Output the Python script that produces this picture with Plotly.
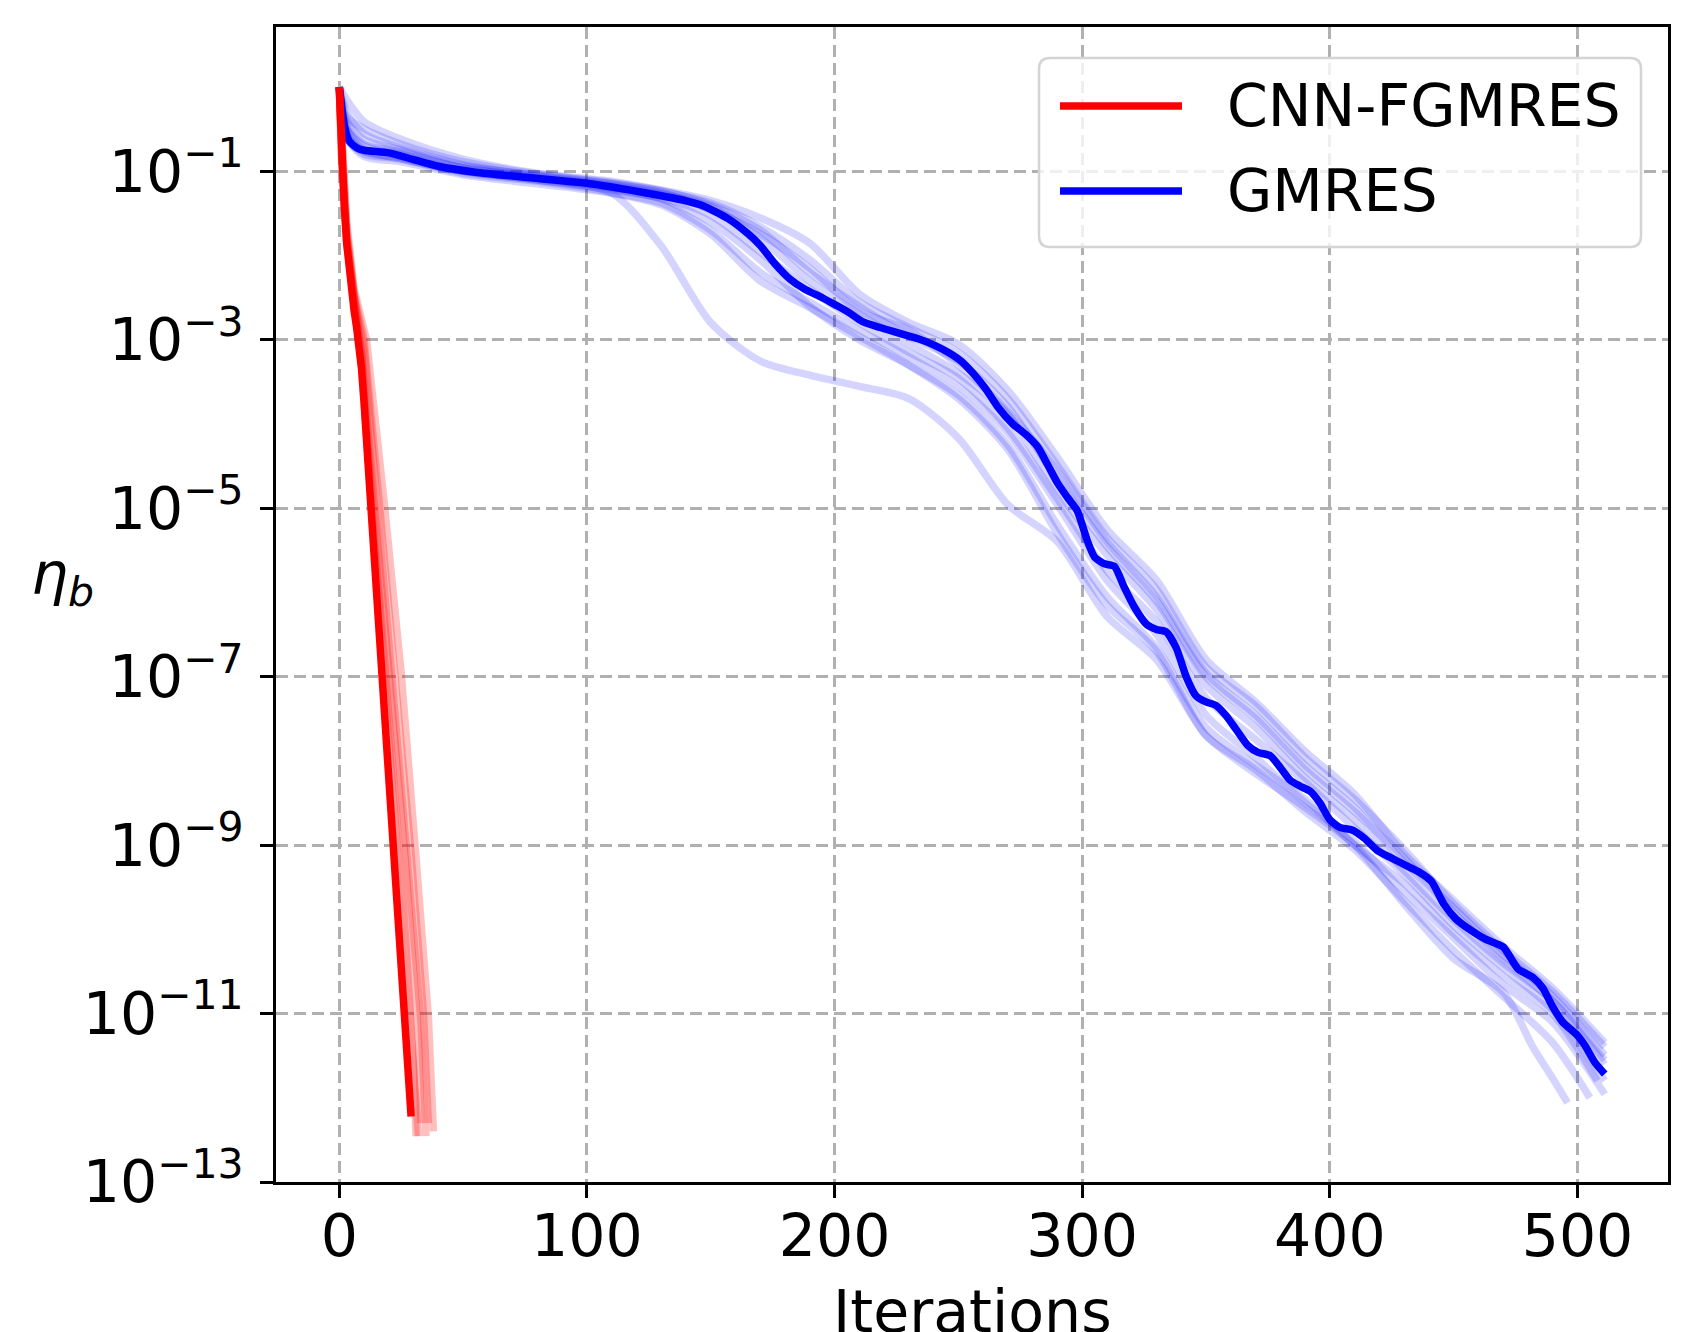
import plotly.graph_objects as go

# ---------------- data ----------------
# CNN-FGMRES: median run (one point per iteration)
cnn_iters = list(range(0, 30))
cnn_main = [1.0, 1.3e-1, 4.0e-2, 1.4e-2, 6.3e-3, 3.5e-3, 2.2e-3, 1.4e-3, 8.9e-4, 4.5e-4,
            1.8e-4, 6.3e-5, 2.2e-5, 7.9e-6, 2.8e-6, 1.0e-6, 3.2e-7, 1.1e-7, 4.0e-8, 1.4e-8,
            5.0e-9, 1.8e-9, 6.3e-10, 2.5e-10, 8.9e-11, 3.2e-11, 1.3e-11, 4.5e-12, 1.6e-12, 6.0e-13]

# CNN-FGMRES: individual (faint) runs
cnn_run1_x = [0, 1, 3, 6, 11, 18, 25, 31, 36, 38]
cnn_run1_y = [1.0, 2.0e-1, 2.5e-2, 4.0e-3, 1.0e-3, 1.3e-5, 1.1e-7, 7.1e-10, 8.9e-12, 4.0e-13]
cnn_run2_x = [0, 1, 3, 6, 10, 16, 23, 29, 34, 36]
cnn_run2_y = [1.0, 1.8e-1, 2.0e-2, 3.5e-3, 1.0e-3, 1.3e-5, 8.9e-8, 7.9e-10, 1.0e-11, 5.0e-13]
cnn_run3_x = [0, 1, 3, 6, 10, 15, 22, 28, 33, 35]
cnn_run3_y = [1.0, 1.6e-1, 1.8e-2, 3.2e-3, 7.9e-4, 1.4e-5, 7.9e-8, 6.3e-10, 7.9e-12, 3.5e-13]
cnn_run4_x = [0, 1, 3, 6, 9, 14, 21, 27, 32, 33]
cnn_run4_y = [1.0, 1.4e-1, 1.6e-2, 2.8e-3, 7.1e-4, 1.3e-5, 7.1e-8, 5.0e-10, 5.0e-12, 5.0e-13]
cnn_run5_x = [0, 1, 3, 6, 9, 14, 20, 26, 30, 31]
cnn_run5_y = [1.0, 1.4e-1, 1.4e-2, 2.5e-3, 6.3e-4, 6.3e-6, 4.5e-8, 1.8e-10, 2.5e-12, 3.5e-13]
cnn_run6_x = [0, 1, 3, 6, 9, 13, 19, 25, 29, 32]
cnn_run6_y = [1.0, 1.3e-1, 1.4e-2, 2.2e-3, 5.0e-4, 1.1e-5, 4.5e-8, 1.3e-10, 3.2e-12, 3.5e-13]

# GMRES: median run
gmres_iters = [0, 2, 4, 7, 10, 20, 30, 40, 55, 75, 100, 117, 130, 140, 147, 157, 165, 170, 176, 182,
               188, 195, 200, 206, 211, 218, 226, 234, 240, 246, 251, 256, 261, 266, 272, 277, 282, 286, 290, 294,
               298, 302, 305, 309, 313, 317, 321, 326, 330, 334, 338, 342, 346, 350, 354, 358, 362, 367, 371, 376,
               380, 384, 388, 392, 396, 400, 404, 409, 414, 419, 424, 430, 436, 441, 446, 451, 456, 463, 470, 476,
               482, 486, 490, 494, 500, 503, 507, 511]
gmres_main = [1.0, 3.55e-1, 2.29e-1, 1.91e-1, 1.78e-1, 1.66e-1, 1.38e-1, 1.15e-1, 9.77e-2, 8.51e-2,
              7.24e-2, 6.03e-2, 5.13e-2, 4.47e-2, 3.89e-2, 2.75e-2, 1.82e-2, 1.32e-2, 7.94e-3, 5.25e-3,
              3.98e-3, 3.16e-3, 2.63e-3, 2.09e-3, 1.66e-3, 1.41e-3, 1.20e-3, 1.02e-3, 8.71e-4, 7.08e-4,
              5.62e-4, 3.98e-4, 2.63e-4, 1.58e-4, 1.0e-4, 7.59e-5, 5.37e-5, 3.31e-5, 2.0e-5, 1.35e-5,
              9.33e-6, 4.17e-6, 2.63e-6, 2.19e-6, 2.04e-6, 1.15e-6, 6.76e-7, 4.17e-7, 3.63e-7, 3.39e-7,
              2.19e-7, 1.0e-7, 5.89e-8, 5.01e-8, 4.57e-8, 3.47e-8, 2.40e-8, 1.51e-8, 1.26e-8, 1.15e-8,
              8.32e-9, 5.89e-9, 5.01e-9, 4.37e-9, 3.16e-9, 2.0e-9, 1.62e-9, 1.51e-9, 1.20e-9, 8.71e-10,
              7.24e-10, 5.89e-10, 4.79e-10, 3.72e-10, 2.0e-10, 1.32e-10, 1.02e-10, 7.59e-11, 6.17e-11, 3.39e-11,
              2.69e-11, 2.0e-11, 1.20e-11, 7.94e-12, 5.50e-12, 4.17e-12, 2.63e-12, 1.91e-12]

# GMRES: individual (faint) runs
gm_grid = [0, 3, 10, 25, 50, 80, 110, 130, 150, 170, 190, 210, 230, 250, 270, 290, 310, 330,
           350, 370, 390, 410, 430, 450, 470, 490, 511]
gm_run1_x = [0, 3, 10, 25, 50, 80, 110, 130, 150, 170, 190, 210, 230, 250, 270, 290, 310, 330,
             350, 370, 390, 410, 430, 450, 470, 482, 490, 496]
gm_run1_y = [1.0, 3.2e-1, 1.8e-1, 1.4e-1, 1.0e-1, 7.9e-2, 5.5e-2, 1.3e-2, 1.6e-3, 5.6e-4, 3.8e-4, 2.8e-4,
             2.0e-4, 6.8e-5, 1.1e-5, 4.0e-6, 5.2e-7, 1.6e-7, 2.0e-8, 7.1e-9, 2.8e-9, 1.0e-9, 2.0e-10,
             4.5e-11, 1.8e-11, 4.0e-12, 1.7e-12, 8.7e-13]
gm_run2_y = [1.0, 7.1e-1, 3.9e-1, 2.4e-1, 1.4e-1, 9.5e-2, 7.6e-2, 6.0e-2, 4.5e-2, 2.8e-2, 1.4e-2, 3.5e-3,
             1.6e-3, 8.9e-4, 2.5e-4, 4.0e-5, 5.6e-6, 1.4e-6, 1.6e-7, 5.0e-8, 1.3e-8, 4.0e-9, 7.9e-10,
             2.2e-10, 6.3e-11, 2.0e-11, 4.5e-12]
gm_run3_y = [1.0, 5.0e-1, 2.8e-1, 1.9e-1, 1.2e-1, 8.9e-2, 7.1e-2, 5.6e-2, 3.5e-2, 1.8e-2, 7.1e-3, 2.2e-3,
             1.3e-3, 5.0e-4, 1.4e-4, 2.8e-5, 4.0e-6, 8.9e-7, 1.1e-7, 3.5e-8, 8.9e-9, 2.8e-9, 6.3e-10,
             1.8e-10, 5.0e-11, 1.6e-11, 3.2e-12]
gm_run4_y = [1.0, 2.5e-1, 1.6e-1, 1.4e-1, 9.5e-2, 7.6e-2, 5.6e-2, 4.2e-2, 2.0e-2, 6.3e-3, 2.8e-3, 1.3e-3,
             6.3e-4, 2.8e-4, 7.9e-5, 1.1e-5, 1.4e-6, 3.2e-7, 3.5e-8, 1.1e-8, 3.2e-9, 1.1e-9, 2.8e-10,
             7.9e-11, 2.2e-11, 7.9e-12, 1.1e-12]
gm_run5_x = [0, 3, 10, 25, 50, 80, 110, 130, 150, 170, 190, 210, 230, 250, 270, 290, 310, 330,
             350, 370, 390, 410, 430, 450, 470, 490, 508]
gm_run5_y = [1.0, 3.2e-1, 2.0e-1, 1.6e-1, 1.1e-1, 8.3e-2, 6.3e-2, 4.7e-2, 2.5e-2, 8.9e-3, 2.5e-3, 1.0e-3,
             5.0e-4, 2.2e-4, 5.6e-5, 6.3e-6, 8.9e-7, 2.2e-7, 2.5e-8, 8.9e-9, 3.5e-9, 1.0e-9, 3.5e-10,
             8.9e-11, 2.8e-11, 1.0e-11, 1.6e-12]
gm_run6_y = [1.0, 3.5e-1, 2.1e-1, 1.7e-1, 1.1e-1, 8.7e-2, 6.8e-2, 5.4e-2, 3.8e-2, 1.6e-2, 5.0e-3, 2.0e-3,
             8.9e-4, 4.0e-4, 1.3e-4, 1.6e-5, 2.8e-6, 6.3e-7, 7.9e-8, 2.5e-8, 6.3e-9, 2.0e-9, 5.0e-10,
             1.3e-10, 4.0e-11, 1.4e-11, 2.5e-12]
gm_run7_y = [1.0, 2.8e-1, 1.7e-1, 1.45e-1, 1.0e-1, 7.9e-2, 6.0e-2, 4.8e-2, 3.0e-2, 1.1e-2, 4.0e-3, 1.6e-3,
             7.1e-4, 3.5e-4, 8.9e-5, 1.3e-5, 1.8e-6, 4.5e-7, 5.6e-8, 1.8e-8, 5.6e-9, 1.6e-9, 4.5e-10,
             1.1e-10, 3.5e-11, 1.1e-11, 1.6e-12]
gm_run8_y = [1.0, 4.0e-1, 2.4e-1, 1.8e-1, 1.15e-1, 9.1e-2, 7.2e-2, 5.8e-2, 4.2e-2, 2.2e-2, 8.9e-3, 2.8e-3,
             1.4e-3, 7.1e-4, 2.0e-4, 3.2e-5, 4.5e-6, 1.1e-6, 1.3e-7, 4.5e-8, 1.1e-8, 3.5e-9, 8.9e-10,
             2.0e-10, 5.6e-11, 1.8e-11, 4.0e-12]
gm_run9_x = [0, 3, 10, 25, 50, 80, 110, 130, 150, 170, 190, 210, 230, 250, 270, 290, 310, 330,
             350, 370, 390, 410, 430, 450, 470, 490, 505]
gm_run9_y = [1.0, 2.5e-1, 1.5e-1, 1.3e-1, 9.1e-2, 7.1e-2, 5.5e-2, 4.0e-2, 1.8e-2, 5.0e-3, 2.4e-3, 1.1e-3,
             5.0e-4, 2.0e-4, 5.0e-5, 5.0e-6, 7.1e-7, 2.0e-7, 2.0e-8, 7.9e-9, 2.5e-9, 8.9e-10, 2.2e-10,
             5.6e-11, 1.6e-11, 4.5e-12, 1.0e-12]
gm_run10_y = [1.0, 4.5e-1, 3.2e-1, 2.1e-1, 1.3e-1, 9.3e-2, 7.4e-2, 5.9e-2, 4.0e-2, 2.0e-2, 6.3e-3, 2.5e-3,
              1.1e-3, 5.6e-4, 1.6e-4, 2.2e-5, 3.5e-6, 7.9e-7, 1.0e-7, 3.2e-8, 7.9e-9, 2.5e-9, 7.1e-10,
              1.6e-10, 4.5e-11, 1.4e-11, 2.8e-12]

x_ticks = [0, 100, 200, 300, 400, 500]
y_ticks = [1e-1, 1e-3, 1e-5, 1e-7, 1e-9, 1e-11, 1e-13]
y_tick_text = ["10<sup>\u22121</sup>", "10<sup>\u22123</sup>", "10<sup>\u22125</sup>",
               "10<sup>\u22127</sup>", "10<sup>\u22129</sup>", "10<sup>\u221211</sup>",
               "10<sup>\u221213</sup>"]
series_names = ["CNN-FGMRES", "GMRES"]

# ---------------- figure ----------------
FONT = "DejaVu Sans"
FS = 58.5
W_PX, H_PX = 1701, 1332
L0, R0, T0, B0 = 276, 1668, 27, 1182
PW, PH = R0 - L0, B0 - T0


def px(X):
    return (X - L0) / PW


def py(Y):
    return (B0 - Y) / PH


fig = go.Figure()

faint_blue = "rgba(0,0,255,0.17)"
faint_red = "rgba(255,0,0,0.25)"
LW = 7.5

gm_runs = [
    (gm_run1_x, gm_run1_y), (gm_grid, gm_run2_y), (gm_grid, gm_run3_y), (gm_grid, gm_run4_y),
    (gm_run5_x, gm_run5_y), (gm_grid, gm_run6_y), (gm_grid, gm_run7_y), (gm_grid, gm_run8_y),
    (gm_run9_x, gm_run9_y), (gm_grid, gm_run10_y),
]
for xs, ys in gm_runs:
    fig.add_trace(go.Scatter(x=xs, y=ys, mode="lines", showlegend=False, hoverinfo="skip",
                             line=dict(color=faint_blue, width=LW, shape="spline", smoothing=0.8)))

fig.add_trace(go.Scatter(x=gmres_iters, y=gmres_main, mode="lines", name=series_names[1],
                         showlegend=False,
                         line=dict(color="rgb(0,0,255)", width=LW, shape="spline", smoothing=0.6)))

cnn_runs = [(cnn_run1_x, cnn_run1_y), (cnn_run2_x, cnn_run2_y), (cnn_run3_x, cnn_run3_y),
            (cnn_run4_x, cnn_run4_y), (cnn_run5_x, cnn_run5_y), (cnn_run6_x, cnn_run6_y)]
for xs, ys in cnn_runs:
    fig.add_trace(go.Scatter(x=xs, y=ys, mode="lines", showlegend=False, hoverinfo="skip",
                             line=dict(color=faint_red, width=LW)))

fig.add_trace(go.Scatter(x=cnn_iters, y=cnn_main, mode="lines", name=series_names[0],
                         showlegend=False, line=dict(color="rgb(255,0,0)", width=LW)))

axis_common = dict(
    showline=True, linecolor="black", linewidth=2.5, mirror=True,
    ticks="outside", ticklen=13, tickwidth=2.5, tickcolor="black",
    showgrid=True, gridcolor="#b0b0b0", gridwidth=2.5, griddash="12px,6px",
    zeroline=False,
    tickfont=dict(family=FONT, size=FS, color="black"),
)

fig.update_xaxes(range=[-25.55, 536.55], tickvals=x_ticks, ticklabelstandoff=-12, **axis_common)
fig.update_yaxes(type="log", range=[-13, 0.714], tickvals=y_ticks, ticktext=y_tick_text,
                 ticklabelstandoff=5, **axis_common)

# legend drawn by hand (matplotlib style)
x0, x1 = px(1039), px(1641)
yt, yb = py(58), py(247)
rx, ry = 11 / PW, 11 / PH
box_path = (f"M {x0+rx},{yt} L {x1-rx},{yt} Q {x1},{yt} {x1},{yt-ry} "
            f"L {x1},{yb+ry} Q {x1},{yb} {x1-rx},{yb} L {x0+rx},{yb} Q {x0},{yb} {x0},{yb+ry} "
            f"L {x0},{yt-ry} Q {x0},{yt} {x0+rx},{yt} Z")
shapes = [
    dict(type="path", xref="paper", yref="paper", path=box_path, layer="above",
         fillcolor="rgba(255,255,255,0.8)", line=dict(color="#d4d4d4", width=2.5)),
    dict(type="line", xref="paper", yref="paper", x0=px(1060), x1=px(1182), y0=py(106), y1=py(106),
         layer="above", line=dict(color="rgb(255,0,0)", width=LW)),
    dict(type="line", xref="paper", yref="paper", x0=px(1060), x1=px(1182), y0=py(191), y1=py(191),
         layer="above", line=dict(color="rgb(0,0,255)", width=LW)),
]

annotations = [
    dict(xref="paper", yref="paper", x=px(1225), y=py(106), xanchor="left", yanchor="middle",
         text=series_names[0], showarrow=False, font=dict(family=FONT, size=FS, color="black")),
    dict(xref="paper", yref="paper", x=px(1225), y=py(191), xanchor="left", yanchor="middle",
         text=series_names[1], showarrow=False, font=dict(family=FONT, size=FS, color="black")),
    dict(xref="paper", yref="paper", x=px(972), y=py(1276), xanchor="center", yanchor="top",
         text="Iterations", showarrow=False, font=dict(family=FONT, size=FS, color="black")),
    dict(xref="paper", yref="paper", x=px(62), y=py(578), xanchor="center", yanchor="middle",
         text="<i>\u03b7</i><sub><i>b</i></sub>", showarrow=False,
         font=dict(family=FONT, size=FS, color="black")),
]

fig.update_layout(
    width=W_PX, height=H_PX,
    margin=dict(l=L0, r=W_PX - R0, t=T0, b=H_PX - B0, autoexpand=False),
    paper_bgcolor="white", plot_bgcolor="white",
    showlegend=False,
    shapes=shapes, annotations=annotations,
    font=dict(family=FONT, color="black"),
)

fig.write_html("out.html")
